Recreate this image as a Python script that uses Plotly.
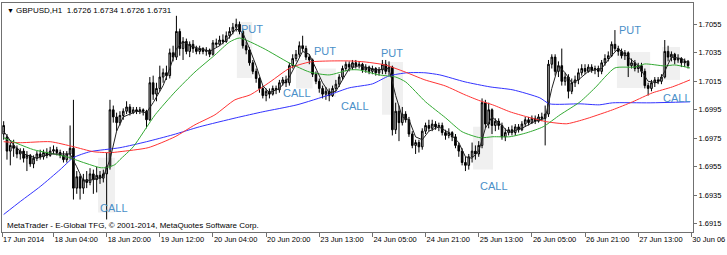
import plotly.graph_objects as go

BASE = 1.6900
PIP = 0.0001

# OHLC in pips above 1.6900, hourly bars (index 0 = 17 Jun 2014 12:00)
opens = [78, 76, 66, 70, 68, 64, 66, 61, 63, 57,
         61, 64, 62, 65, 63, 66, 67, 65, 63, 60,
         64, 68, 40, 48, 40, 46, 44, 50, 46, 49,
         47, 50, 55, 95, 90, 86, 91, 94, 97, 93,
         95, 94, 95, 94, 88, 114, 106, 110, 118, 121,
         119, 135, 132, 150, 138, 143, 136, 141, 138, 136,
         138, 136, 137, 134, 142, 141, 144, 143, 147, 150,
         153, 155, 150, 140, 137, 128, 122, 117, 110, 105,
         108, 106, 110, 109, 114, 116, 114, 126, 131, 134,
         140, 138, 132, 130, 120, 115, 110, 106, 108, 105,
         110, 113, 118, 124, 127, 125, 128, 126, 127, 123,
         125, 122, 124, 121, 123, 127, 122, 125, 81, 94,
         86, 92, 88, 78, 70, 72, 69, 80, 84, 82,
         85, 83, 84, 79, 77, 79, 76, 70, 66, 58,
         56, 62, 66, 64, 70, 100, 85, 95, 84, 87,
         84, 76, 79, 81, 79, 83, 81, 85, 88, 86,
         89, 87, 90, 89, 92, 127, 132, 122, 126, 115,
         118, 108, 114, 116, 121, 124, 122, 125, 123, 124,
         122, 128, 131, 133, 141, 138, 136, 133, 135, 126,
         128, 124, 126, 122, 112, 110, 114, 116, 115, 118,
         136, 132, 134, 130, 131, 128, 129]
highs = [87, 78, 72, 74, 70, 68, 68, 66, 64, 63,
         66, 67, 67, 68, 69, 70, 69, 67, 66, 66,
         84, 102, 52, 50, 50, 52, 54, 53, 55, 52,
         53, 65, 102, 98, 93, 94, 96, 101, 99, 97,
         97, 97, 96, 95, 118, 119, 114, 126, 124, 126,
         138, 140, 161, 152, 146, 145, 143, 144, 140, 140,
         139, 139, 138, 144, 145, 147, 148, 150, 153, 156,
         159, 157, 152, 143, 139, 130, 124, 118, 112, 110,
         110, 112, 112, 116, 118, 119, 128, 134, 137, 143,
         147, 140, 134, 131, 122, 117, 112, 111, 110, 112,
         116, 120, 126, 129, 129, 130, 130, 129, 128, 127,
         126, 126, 125, 125, 130, 130, 129, 126, 100, 98,
         97, 94, 90, 80, 74, 74, 82, 86, 88, 88,
         87, 86, 86, 81, 82, 80, 78, 72, 68, 62,
         64, 72, 70, 73, 103, 102, 100, 96, 89, 89,
         86, 82, 83, 84, 85, 85, 87, 90, 90, 91,
         91, 92, 93, 98, 130, 134, 134, 129, 138, 121,
         120, 117, 119, 124, 127, 127, 127, 127, 126, 126,
         130, 134, 136, 143, 151, 140, 138, 137, 136, 131,
         130, 128, 128, 124, 114, 116, 118, 118, 120, 144,
         140, 136, 135, 134, 132, 131, 130]
lows = [74, 60, 56, 62, 61, 60, 58, 52, 55, 54,
        59, 60, 60, 61, 62, 64, 63, 61, 58, 58,
        60, 32, 36, 32, 36, 40, 42, 36, 37, 43,
        44, 18, 53, 86, 80, 84, 88, 92, 91, 92,
        92, 92, 91, 82, 87, 102, 101, 108, 114, 116,
        117, 129, 130, 133, 130, 134, 132, 135, 134, 134,
        134, 133, 132, 133, 139, 140, 141, 142, 145, 148,
        150, 148, 138, 134, 126, 120, 114, 107, 103, 101,
        103, 105, 106, 107, 112, 111, 112, 124, 129, 132,
        136, 130, 127, 118, 113, 107, 103, 102, 101, 104,
        108, 111, 116, 122, 122, 123, 124, 124, 121, 121,
        120, 120, 119, 119, 120, 120, 119, 77, 78, 73,
        84, 86, 76, 68, 64, 65, 67, 78, 80, 80,
        81, 80, 77, 74, 75, 73, 68, 62, 56, 52,
        53, 58, 60, 62, 68, 82, 82, 78, 80, 81,
        74, 73, 77, 77, 77, 79, 80, 83, 84, 85,
        85, 86, 87, 70, 90, 124, 119, 118, 112, 112,
        103, 106, 111, 113, 119, 120, 121, 121, 120, 118,
        120, 126, 129, 132, 136, 133, 131, 130, 118, 124,
        122, 121, 118, 110, 105, 108, 111, 113, 113, 117,
        129, 129, 127, 128, 125, 125, 124]
closes = [84, 66, 70, 68, 64, 66, 61, 63, 57, 61,
          64, 62, 65, 63, 66, 67, 65, 63, 60, 64,
          68, 40, 48, 40, 46, 44, 50, 46, 49, 47,
          50, 55, 95, 90, 86, 91, 94, 97, 93, 95,
          94, 95, 94, 88, 114, 106, 110, 118, 121, 119,
          135, 132, 150, 138, 143, 136, 141, 138, 136, 138,
          136, 137, 134, 142, 141, 144, 143, 147, 150, 153,
          155, 150, 140, 137, 128, 122, 117, 110, 105, 108,
          106, 110, 109, 114, 116, 114, 126, 131, 134, 140,
          138, 132, 130, 120, 115, 110, 106, 108, 105, 110,
          113, 118, 124, 127, 125, 128, 126, 127, 123, 125,
          122, 124, 121, 123, 127, 122, 125, 81, 94, 86,
          92, 88, 78, 70, 72, 69, 80, 84, 82, 85,
          83, 84, 79, 77, 79, 76, 70, 66, 58, 56,
          62, 66, 64, 70, 100, 85, 95, 84, 87, 84,
          76, 79, 81, 79, 83, 81, 85, 88, 86, 89,
          87, 90, 89, 92, 127, 132, 122, 126, 115, 118,
          108, 114, 116, 121, 124, 122, 125, 123, 124, 122,
          128, 131, 133, 141, 138, 136, 133, 135, 126, 128,
          124, 126, 122, 112, 110, 114, 116, 115, 118, 136,
          132, 134, 130, 131, 128, 129, 126]

# moving averages (bar index, pips)
green_x = [0, 5, 9, 19, 24, 29, 31, 33.5, 35, 39, 45.6, 51.6, 57.6, 63.6, 68, 71, 78, 86, 92, 98, 104,
           107, 113, 118, 121, 127, 133, 138, 143.4, 147.3, 152.4, 157.5, 162.4, 167.5, 173.5, 178,
           184, 190, 193, 199, 202, 206.6]
green_p = [75.4, 70.5, 67, 62, 58, 54.4, 54.4, 56.5, 60, 69, 91.5, 107.6, 121.6, 133.5, 142.6, 145.4,
           138.4, 127.9, 121.6, 119.5, 123, 123, 119.5, 118, 114.6, 100.6, 89.4, 79.6, 75.4, 76.1,
           76.1, 78.9, 83.1, 91.5, 100.6, 110.4, 124.4, 125, 127.2, 125.8, 126.5, 124.4]
red_x = [0, 5, 14, 21, 27, 32, 35, 43.5, 51.6, 57.6, 63.6, 69.6, 74.2, 80.2, 86.2, 92.2, 98.2, 104.3,
         108.8, 114.8, 120.8, 126.8, 132.9, 138.9, 143.4, 147.2, 152.4, 157.5, 163.5, 169.5, 173.3,
         176.3, 183.3, 189.3, 195.3, 201.3, 206.6]
red_p = [72.6, 71.9, 72.6, 69.1, 65.6, 64.9, 65.6, 68.4, 76.1, 84.5, 91.5, 102, 105.5, 114.6, 124.4,
         128.6, 129.3, 129.3, 128.6, 126.5, 121.6, 116, 111.8, 105.5, 101.3, 98.5, 93.6, 90.1, 86.6,
         85.2, 87.3, 89.4, 95, 100.6, 106.9, 111.1, 116]
blue_x = [0, 5, 11, 17, 21, 26, 35, 43, 51, 59, 70, 78, 88.3, 98, 104, 111, 116, 121.4, 126.8, 131.3,
          138.9, 146.4, 153.3, 161.4, 164.3, 173.5, 179.3, 183.3, 194.6, 206.6]
blue_p = [21.5, 30.6, 41.1, 53, 61.4, 65.6, 68.4, 72.6, 77.5, 83.1, 89.4, 93.6, 98.5, 105.5, 110.4,
          113.2, 118.8, 121, 121, 119.5, 114.6, 111.1, 109, 103.4, 99.2, 99.2, 98.5, 99.9, 99.9, 100.6]
fast_x = [0, 3, 6, 10, 14, 18, 20, 22, 24, 27, 30, 32, 34, 36, 40, 43, 45, 48, 50, 52, 54, 56, 60, 62,
          65, 68, 70, 72, 74, 76, 78, 80, 83, 86, 88, 90, 92, 94, 96, 98, 100, 102, 104, 107, 112, 116,
          118, 120, 122, 124, 126, 128, 131, 134, 137, 139, 141, 143, 145, 147, 150, 152, 156, 160,
          163, 165, 167, 169, 171, 173, 176, 180, 183, 185, 188, 191, 194, 197, 199, 201, 204, 206]
fast_p = [80, 70, 64, 61, 64, 64, 64, 55, 45, 46, 48, 60, 80, 90, 94, 93, 100, 112, 124, 138, 143, 140,
          137, 136, 140, 146, 152, 149, 138, 126, 112, 107, 110, 118, 127, 136, 134, 124, 114, 107, 108,
          116, 124, 126, 123, 124, 105, 90, 88, 76, 74, 80, 83, 79, 72, 62, 61, 66, 82, 90, 84, 79, 82,
          87, 89, 110, 126, 121, 114, 116, 122, 124, 133, 138, 132, 126, 115, 114, 122, 132, 131, 128]

# signal labels and zones
sig_text = ["PUT", "CALL", "PUT", "CALL", "PUT", "CALL", "CALL", "PUT", "CALL"]
sig_x = [74.8, 88.3, 96.7, 105.8, 116.9, 33.2, 147.6, 188.5, 202.7]
sig_p = [151.7, 106.9, 136.3, 97.8, 134.9, 26.4, 41.8, 151, 103.4]
zone_x0 = [70.2, 88, 95, 113.9, 28.4, 141.3, 184.6, 198.2]
zone_x1 = [74.8, 93, 100, 120.2, 33.5, 147.3, 194.6, 203.6]
zone_p0 = [156.6, 130, 124, 128.6, 61.4, 83.1, 135.6, 139.1]
zone_p1 = [117.4, 110, 104, 91.5, 22.9, 53, 110.4, 116]

tick_pos = [-0.5, 15, 31, 47, 63, 79, 95, 111, 127, 143, 159, 175, 191, 207]
tick_text = ["17 Jun 2014", "18 Jun 04:00", "18 Jun 20:00", "19 Jun 12:00", "20 Jun 04:00",
             "20 Jun 20:00", "23 Jun 13:00", "24 Jun 05:00", "24 Jun 21:00", "25 Jun 13:00",
             "26 Jun 05:00", "26 Jun 21:00", "27 Jun 13:00", "30 Jun 06"]
price_ticks = [1.6915, 1.6935, 1.6955, 1.6975, 1.6995, 1.7015, 1.7035, 1.7055]

def px(v):
    return [BASE + a * PIP for a in v]

FONT = "Liberation Sans, Arial, sans-serif"
idx = list(range(len(closes)))

fig = go.Figure()
fig.add_trace(go.Candlestick(
    x=idx, open=px(opens), high=px(highs), low=px(lows), close=px(closes),
    increasing=dict(line=dict(color="#000000", width=1), fillcolor="#b8b8b8"),
    decreasing=dict(line=dict(color="#000000", width=1), fillcolor="#000000"),
    whiskerwidth=0, showlegend=False, hoverinfo="skip"))
fig.add_trace(go.Scatter(x=blue_x, y=px(blue_p), mode="lines", line=dict(color="#3333ff", width=1, shape="spline", smoothing=0.6), hoverinfo="skip", showlegend=False))
fig.add_trace(go.Scatter(x=red_x, y=px(red_p), mode="lines", line=dict(color="#ff3333", width=1, shape="spline", smoothing=0.6), hoverinfo="skip", showlegend=False))
fig.add_trace(go.Scatter(x=green_x, y=px(green_p), mode="lines", line=dict(color="#33aa33", width=1, shape="spline", smoothing=0.6), hoverinfo="skip", showlegend=False))
fig.add_trace(go.Scatter(x=fast_x, y=px(fast_p), mode="lines", line=dict(color="#222222", width=1), hoverinfo="skip", showlegend=False))

for x0, x1, p0, p1 in zip(zone_x0, zone_x1, zone_p0, zone_p1):
    fig.add_shape(type="rect", xref="x", yref="y", x0=x0, x1=x1, y0=BASE + p1 * PIP, y1=BASE + p0 * PIP,
                  fillcolor="#f0f0f0", line=dict(width=0), layer="below")

for t, x, p in zip(sig_text, sig_x, sig_p):
    fig.add_annotation(x=x, y=BASE + p * PIP, xref="x", yref="y", text=t, showarrow=False,
                       font=dict(family=FONT, size=11, color="#4a8fc8"))

fig.add_annotation(x=0.0, y=0.969, xref="paper", yref="paper", text="▼", showarrow=False,
                   xanchor="left", yanchor="middle", xshift=3, font=dict(family=FONT, size=7, color="#000000"))
fig.add_annotation(x=0.0174, y=0.969, xref="paper", yref="paper",
                   text="GBPUSD,H1  1.6726 1.6734 1.6726 1.6731", showarrow=False,
                   xanchor="left", yanchor="middle", font=dict(family=FONT, size=8, color="#000000"))
fig.add_annotation(x=0.004, y=0.03, xref="paper", yref="paper",
                   text="MetaTrader - E-Global TFG, © 2001-2014, MetaQuotes Software Corp.", showarrow=False,
                   xanchor="left", yanchor="middle", font=dict(family=FONT, size=8, color="#000000"))

fig.update_layout(
    width=727, height=255,
    margin=dict(l=2, r=34, t=3, b=23),
    paper_bgcolor="#ffffff", plot_bgcolor="#ffffff",
    showlegend=False,
    xaxis=dict(range=[-0.5, 207.5], rangeslider=dict(visible=False), showgrid=False, zeroline=False,
               tickmode="array", tickvals=tick_pos, ticktext=tick_text, ticks="outside", ticklen=4,
               tickcolor="#707070", ticklabelposition="outside right", ticklabeloverflow="allow",
               showline=True, linecolor="#707070", linewidth=1, mirror=True, automargin=False,
               tickfont=dict(family=FONT, size=7.5, color="#000000")),
    yaxis=dict(range=[1.69092, 1.70700], side="right", showgrid=False, zeroline=False,
               tickmode="array", tickvals=price_ticks, ticktext=["%.4f" % v for v in price_ticks],
               ticks="outside", ticklen=3, tickcolor="#707070", showline=True, linecolor="#707070",
               linewidth=1, mirror=True, automargin=False, ticklabeloverflow="allow",
               tickfont=dict(family=FONT, size=7.5, color="#000000")),
)

fig.write_html("out.html")
